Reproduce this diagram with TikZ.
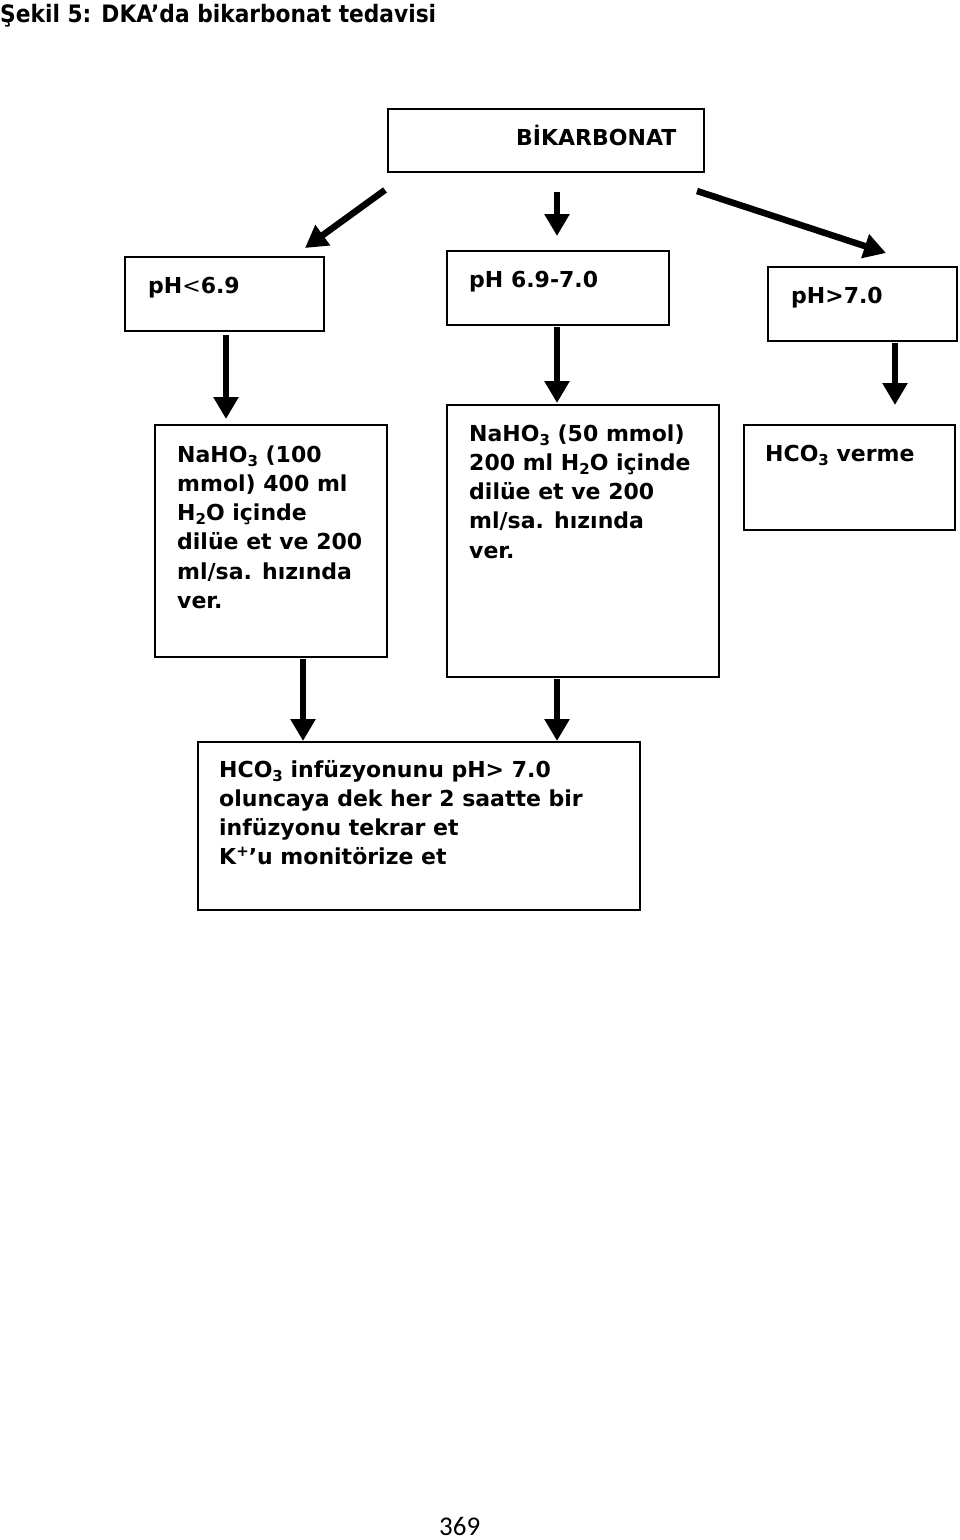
\documentclass[tikz,border=0pt]{standalone}
\usepackage{fontspec}
\setmainfont{DejaVu Sans}
\newfontfamily\pgfont{Carlito}
\usetikzlibrary{arrows.meta,calc}
\newcommand{\lowsub}[1]{\raisebox{-4pt}{\fontsize{15}{15}\selectfont #1}}
\newcommand{\highsup}[1]{\raisebox{8pt}{\fontsize{15}{15}\selectfont #1}}
\begin{document}
\begin{tikzpicture}[x=1pt,y=-1pt,
  box/.style={draw,line width=2.8pt,anchor=north west,inner sep=0pt,outer sep=0pt},
  txt/.style={anchor=base west,inner sep=0pt,align=left,font=\fontsize{22}{29.3}\selectfont\bfseries},
  arr/.style={line width=6.5pt,-{Triangle[length=22pt,width=24pt]}}]
\fill[white] (0,0) rectangle (960,1540);
\useasboundingbox (0,0) rectangle (960,1540);

\node[anchor=base west,inner sep=0pt,font=\fontsize{24}{24}\selectfont\bfseries] (title) at (0,22)
  {\scalebox{0.906}[1]{Şekil 5: DKA’da bikarbonat tedavisi}};

% boxes
\node[box,minimum width=316pt,minimum height=63pt] (bik) at (388,109) {};
\node[box,minimum width=199pt,minimum height=74pt] (ph1) at (125,257) {};
\node[box,minimum width=222pt,minimum height=74pt] (ph2) at (447,251) {};
\node[box,minimum width=189pt,minimum height=74pt] (ph3) at (768,267) {};
\node[box,minimum width=232pt,minimum height=232pt] (b1) at (155,425) {};
\node[box,minimum width=272pt,minimum height=272pt] (b2) at (447,405) {};
\node[box,minimum width=211pt,minimum height=105pt] (b3) at (744,425) {};
\node[box,minimum width=442pt,minimum height=168pt] (b4) at (198,742) {};

% texts (base anchor = baseline of the last line)
\node[txt] (tbik) at (516,145) {BİKARBONAT};
\node[txt] (tph1) at (148,293) {pH{\mdseries<}6.9};
\node[txt] (tph2) at (469,287) {pH 6.9-7.0};
\node[txt] (tph3) at (791,303) {pH>7.0};
\node[txt] (tb1) at (177,608.5) {NaHO\lowsub{3} (100\\mmol) 400 ml\\H\lowsub{2}O içinde\\dilüe et ve 200\\ml/sa. hızında\\ver.};
\node[txt] (tb2) at (469,558.2) {NaHO\lowsub{3} (50 mmol)\\200 ml H\lowsub{2}O içinde\\dilüe et ve 200\\ml/sa. hızında\\ver.};
\node[txt] (tb3) at (765,461) {HCO\lowsub{3} verme};
\node[txt] (tb4) at (219,864.9) {HCO\lowsub{3} infüzyonunu pH> 7.0\\oluncaya dek her 2 saatte bir\\infüzyonu tekrar et\\K\highsup{+}’u monitörize et};

\node[anchor=base west,inner sep=0pt,font=\pgfont\fontsize{27}{27}\selectfont] (page) at (439,1535) {369};

% arrows
\coordinate (a1s) at (385,190); \coordinate (a1e) at (305,248);
\coordinate (a2s) at (557,192); \coordinate (a2e) at (557,236);
\coordinate (a3s) at (697,191); \coordinate (a3e) at (886,253);
\coordinate (a4s) at (226,335); \coordinate (a4e) at (226,419);
\coordinate (a5s) at (557,327); \coordinate (a5e) at (557,403);
\coordinate (a6s) at (895,343); \coordinate (a6e) at (895,405);
\coordinate (a7s) at (303,659); \coordinate (a7e) at (303,741);
\coordinate (a8s) at (557,679); \coordinate (a8e) at (557,741);
\foreach \i in {1,...,8} \draw[arr] (a\i s) -- (a\i e);
\end{tikzpicture}
\end{document}
